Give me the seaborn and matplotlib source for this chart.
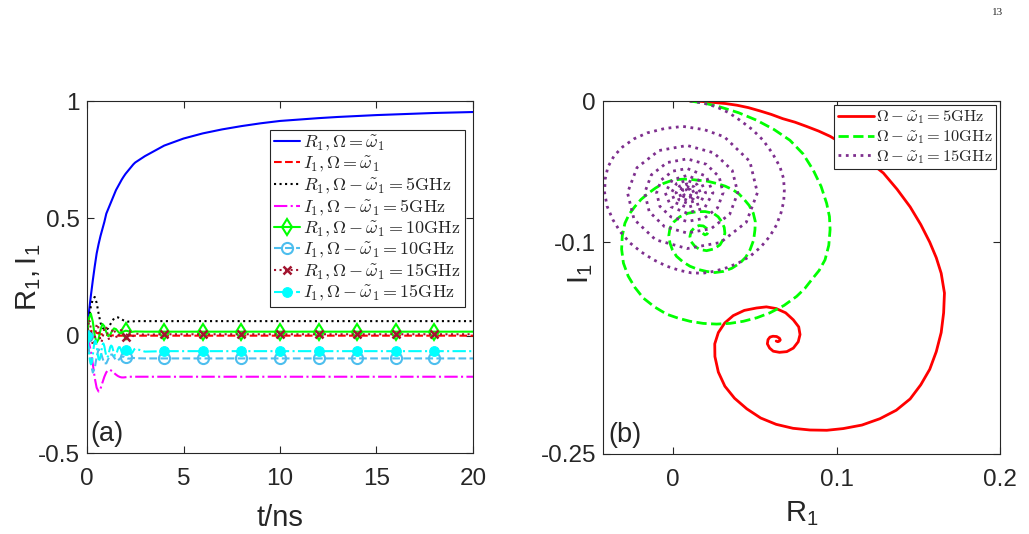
import matplotlib
matplotlib.use("Agg")
import matplotlib.pyplot as plt
import seaborn as sns

# ---------------- panel (a): R1 / I1 against time ----------------
t_a = [0, 0.1, 0.2, 0.3, 0.4, 0.5, 0.6, 0.7, 0.8, 0.9, 1.0, 1.1, 1.2, 1.3,
       1.4, 1.5, 1.6, 1.7, 1.8, 1.9, 2.0, 2.1, 2.2, 2.3, 2.4, 2.5,
       3, 4, 5, 6, 7, 8, 9, 10, 11, 12, 13, 14, 15, 16, 17, 18, 19, 20]

r1_res = [0, 0.10, 0.17, 0.235, 0.295, 0.35, 0.39, 0.425, 0.455, 0.485, 0.52,
          0.54, 0.56, 0.58, 0.60, 0.62, 0.635, 0.65, 0.665, 0.678, 0.69, 0.70,
          0.71, 0.72, 0.73, 0.738,
          0.765, 0.81, 0.84, 0.862, 0.879, 0.893, 0.905, 0.915, 0.921, 0.927,
          0.932, 0.936, 0.94, 0.943, 0.946, 0.949, 0.951, 0.953]
i1_res = [0, 0.012, 0.02, 0.02, 0.016, 0.012, 0.009, 0.007, 0.005, 0.004, 0.003,
          0.002, 0.002, 0.001, 0.001, 0.001, 0, 0, 0, 0, 0, 0, 0, 0, 0, 0,
          0, 0, 0, 0, 0, 0, 0, 0, 0, 0, 0, 0, 0, 0, 0, 0, 0, 0]
r1_5 = [0, 0.07, 0.125, 0.155, 0.165, 0.14, 0.095, 0.055, 0.035, 0.025, 0.024,
        0.032, 0.047, 0.062, 0.073, 0.078, 0.078, 0.074, 0.069, 0.065, 0.062,
        0.06, 0.06, 0.06, 0.061, 0.062,
        0.062, 0.062, 0.062, 0.062, 0.062, 0.062, 0.062, 0.062, 0.062, 0.062,
        0.062, 0.062, 0.062, 0.062, 0.062, 0.062, 0.062, 0.062]
i1_5 = [0, -0.03, -0.065, -0.12, -0.18, -0.222, -0.238, -0.226, -0.2, -0.175,
        -0.156, -0.147, -0.146, -0.151, -0.159, -0.166, -0.172, -0.176, -0.178,
        -0.178, -0.177, -0.176, -0.175, -0.175, -0.175, -0.175,
        -0.175, -0.175, -0.175, -0.175, -0.175, -0.175, -0.175, -0.175, -0.175,
        -0.175, -0.175, -0.175, -0.175, -0.175, -0.175, -0.175, -0.175, -0.175]
r1_10 = [0, 0.075, 0.094, 0.06, 0.0, -0.03, -0.015, 0.025, 0.05, 0.04, 0.015,
         -0.002, 0.004, 0.02, 0.031, 0.028, 0.018, 0.01, 0.012, 0.018, 0.021,
         0.02, 0.017, 0.016, 0.017, 0.018,
         0.017, 0.017, 0.017, 0.017, 0.017, 0.017, 0.017, 0.017, 0.017, 0.017,
         0.017, 0.017, 0.017, 0.017, 0.017, 0.017, 0.017, 0.017]
i1_10 = [0, -0.06, -0.12, -0.157, -0.14, -0.09, -0.058, -0.065, -0.095, -0.118,
         -0.118, -0.1, -0.082, -0.08, -0.092, -0.104, -0.106, -0.098, -0.09,
         -0.089, -0.093, -0.097, -0.098, -0.096, -0.095, -0.096,
         -0.097, -0.097, -0.097, -0.097, -0.097, -0.097, -0.097, -0.097, -0.097,
         -0.097, -0.097, -0.097, -0.097, -0.097, -0.097, -0.097, -0.097, -0.097]

# 15 GHz oscillates faster, so it is read on a finer time grid
t_b = [0, 0.05, 0.1, 0.15, 0.2, 0.25, 0.3, 0.35, 0.4, 0.45, 0.5, 0.55, 0.6,
       0.65, 0.7, 0.75, 0.8, 0.85, 0.9, 0.95, 1.0, 1.05, 1.1, 1.15, 1.2, 1.25,
       1.3, 1.35, 1.4, 1.45, 1.5, 1.55, 1.6, 1.65, 1.7, 1.75, 1.8, 1.85, 1.9,
       1.95, 2.0, 2.05, 2.1, 2.15, 2.2, 2.25, 2.3, 2.35, 2.4, 2.45, 2.5,
       3, 4, 5, 6, 7, 8, 9, 10, 11, 12, 13, 14, 15, 16, 17, 18, 19, 20]
r1_15 = [0, 0.045, 0.068, 0.058, 0.025, -0.015, -0.040, -0.038, -0.012, 0.022,
         0.047, 0.049, 0.030, 0.002, -0.022, -0.027, -0.014, 0.010, 0.032, 0.039,
         0.033, 0.014, -0.006, -0.018, -0.014, 0.002, 0.020, 0.029, 0.028, 0.015,
         0.001, -0.010, -0.010, 0.001, 0.015, 0.023, 0.023, 0.015, 0.004, -0.004,
         -0.005, 0.002, 0.012, 0.018, 0.0195, 0.015, 0.007, 0.000, -0.002, 0.002,
         0.009,
         0.004, 0.006, 0.006, 0.006, 0.006, 0.006, 0.006, 0.006, 0.006, 0.006,
         0.006, 0.006, 0.006, 0.006, 0.006, 0.006, 0.006, 0.006]
i1_15 = [0, -0.03, -0.07, -0.105, -0.121, -0.115, -0.085, -0.048, -0.022, -0.022,
         -0.045, -0.078, -0.100, -0.103, -0.088, -0.062, -0.039, -0.033, -0.045,
         -0.068, -0.087, -0.093, -0.086, -0.067, -0.049, -0.042, -0.046, -0.061,
         -0.077, -0.085, -0.083, -0.071, -0.057, -0.049, -0.049, -0.058, -0.070,
         -0.078, -0.079, -0.072, -0.062, -0.054, -0.052, -0.056, -0.065, -0.072,
         -0.075, -0.072, -0.065, -0.058, -0.055,
         -0.068, -0.066, -0.066, -0.066, -0.066, -0.066, -0.066, -0.066, -0.066,
         -0.066, -0.066, -0.066, -0.066, -0.066, -0.066, -0.066, -0.066, -0.066]

marker_t = [0, 2, 4, 6, 8, 10, 12, 14, 16, 18]

# ---------------- panel (b): trajectories in the R1-I1 plane ----------------
r_5ghz = [0.0102, 0.0175, 0.0245, 0.032, 0.039, 0.046, 0.053, 0.060, 0.067,
          0.0745, 0.0816, 0.089, 0.096, 0.104, 0.112, 0.1205, 0.1286, 0.137,
          0.145, 0.1515, 0.157, 0.161, 0.164, 0.166, 0.1655, 0.164, 0.161,
          0.157, 0.1515, 0.145, 0.1365, 0.1265, 0.1155, 0.104, 0.094, 0.0837,
          0.0733, 0.063, 0.0535, 0.045, 0.0375, 0.0316, 0.0276, 0.0255, 0.0254,
          0.0276, 0.0315, 0.0367, 0.0435, 0.051, 0.057, 0.063, 0.0688, 0.0735,
          0.0768, 0.0776, 0.0765, 0.0735, 0.0695, 0.065, 0.0612, 0.059, 0.0576,
          0.058, 0.0592, 0.061, 0.0633, 0.065, 0.0655, 0.065, 0.064, 0.063]
i_5ghz = [0.0, -0.0003, -0.001, -0.0018, -0.003, -0.0047, -0.007, -0.0095,
          -0.0125, -0.015, -0.018, -0.0213, -0.025, -0.0305, -0.037, -0.0435,
          -0.051, -0.0625, -0.075, -0.0875, -0.1, -0.111, -0.122, -0.136,
          -0.150, -0.164, -0.1775, -0.19, -0.201, -0.211, -0.219, -0.225,
          -0.2295, -0.232, -0.2332, -0.233, -0.2318, -0.229, -0.2245, -0.218,
          -0.2105, -0.202, -0.192, -0.181, -0.172, -0.164, -0.1572, -0.152,
          -0.1483, -0.1466, -0.1458, -0.147, -0.150, -0.155, -0.160, -0.1654,
          -0.1705, -0.175, -0.1775, -0.178, -0.1772, -0.175, -0.172, -0.169,
          -0.1672, -0.1666, -0.1668, -0.168, -0.1692, -0.170, -0.1705, -0.170]

r_10ghz = [0.0102, 0.0194, 0.0286, 0.040, 0.051, 0.0617, 0.0714, 0.0795, 0.0857,
           0.0905, 0.0939, 0.0956, 0.096, 0.0952, 0.0929, 0.0893, 0.0847, 0.0805,
           0.0755, 0.0678, 0.0592, 0.0512, 0.0429, 0.0347, 0.0265, 0.0183,
           0.0102, 0.003, -0.004, -0.0115, -0.0184, -0.0235, -0.0276, -0.0305,
           -0.0316, -0.0312, -0.0296, -0.027, -0.0235, -0.0197, -0.0153, -0.0108,
           -0.006, -0.001, 0.004, 0.009, 0.0143, 0.0205, 0.0265, 0.0318, 0.0367,
           0.0402, 0.0429, 0.0465, 0.049, 0.0502, 0.05, 0.0492, 0.047, 0.0443,
           0.0408, 0.0358, 0.0306, 0.0255, 0.0204, 0.0152, 0.0102, 0.0058, 0.002,
           -0.0005, -0.002, -0.0027, -0.002, 0.0005, 0.004, 0.009, 0.0143,
           0.0195, 0.0245, 0.0275, 0.0296, 0.0312, 0.0316, 0.0306, 0.0286, 0.0248,
           0.0204, 0.0163, 0.0133, 0.011, 0.0102, 0.011, 0.0133, 0.0158, 0.0184,
           0.0205, 0.0214, 0.0207, 0.0194, 0.018]
i_10ghz = [0.0, -0.0016, -0.0042, -0.0083, -0.0136, -0.0202, -0.0278, -0.0375,
           -0.049, -0.0605, -0.0725, -0.0818, -0.091, -0.1022, -0.1125, -0.120,
           -0.1266, -0.1328, -0.1384, -0.1448, -0.150, -0.1535, -0.156, -0.1575,
           -0.158, -0.1575, -0.156, -0.1538, -0.151, -0.1458, -0.1395, -0.132,
           -0.124, -0.1148, -0.105, -0.0955, -0.0866, -0.0802, -0.0748, -0.0697,
           -0.0654, -0.0616, -0.0584, -0.0563, -0.0555, -0.0553, -0.056, -0.0567,
           -0.0584, -0.0603, -0.063, -0.0658, -0.069, -0.074, -0.0795, -0.0853,
           -0.0913, -0.0985, -0.1054, -0.1107, -0.1148, -0.1185, -0.1207, -0.1215,
           -0.1207, -0.1193, -0.117, -0.1138, -0.110, -0.1055, -0.1007, -0.0952,
           -0.090, -0.0855, -0.082, -0.0795, -0.0784, -0.0783, -0.0795, -0.082,
           -0.0854, -0.0895, -0.0936, -0.098, -0.1019, -0.1048, -0.106, -0.1052,
           -0.103, -0.0997, -0.096, -0.0922, -0.0894, -0.0882, -0.0885, -0.0903,
           -0.0925, -0.0942, -0.0948, -0.0936]

r_15ghz = [0.0102, 0.0185, 0.0265, 0.034, 0.0408, 0.0485, 0.055, 0.0607, 0.0653,
           0.0675, 0.068, 0.0676, 0.066, 0.0632, 0.059, 0.0535, 0.047, 0.0402,
           0.033, 0.0255, 0.018, 0.011, 0.004, -0.004, -0.012, -0.0195, -0.0265,
           -0.0325, -0.037, -0.0405, -0.042, -0.0417, -0.040, -0.0362, -0.031,
           -0.024, -0.016, -0.005, 0.006, 0.019,
           0.0313, 0.0469, 0.0515, 0.0447, 0.0289, 0.0085, -0.0108, -0.024,
           -0.028, -0.0222, -0.0088, 0.0085,
           0.0248, 0.0361, 0.0395, 0.0346, 0.0232, 0.0085, -0.0053, -0.0147,
           -0.0175, -0.0134, -0.0038, 0.0085,
           0.0202, 0.0281, 0.0305, 0.0271, 0.0189, 0.0085, -0.0014, -0.0082,
           -0.0102, -0.0073, -0.0004, 0.0085,
           0.0202, 0.0243, 0.0192, 0.0085, -0.0014, -0.0049, -0.0006, 0.0085,
           0.0168, 0.0198, 0.0162, 0.0085, 0.0014, -0.0011, 0.002, 0.0085,
           0.0145, 0.0166, 0.0140, 0.0085, 0.0035, 0.0017, 0.0038, 0.0085,
           0.0127, 0.0143, 0.0125, 0.0085, 0.0049, 0.0036, 0.0052, 0.0085,
           0.0114, 0.0126, 0.0113, 0.0085, 0.006, 0.005, 0.0062, 0.0085,
           0.0106, 0.0115, 0.0105, 0.0085, 0.0067, 0.006, 0.0068, 0.0085,
           0.0085]
i_15ghz = [0.0, -0.0015, -0.0042, -0.0083, -0.0136, -0.0203, -0.0278, -0.037,
           -0.0466, -0.0548, -0.063, -0.0712, -0.079, -0.0878, -0.096, -0.1035,
           -0.110, -0.1145, -0.118, -0.1205, -0.122, -0.1217, -0.120, -0.117,
           -0.1125, -0.107, -0.1005, -0.0925, -0.084, -0.0745, -0.065, -0.0555,
           -0.0467, -0.0388, -0.0325, -0.0268, -0.0226, -0.0194, -0.018, -0.0203,
           -0.0254, -0.0428, -0.065, -0.0859, -0.1002, -0.1045, -0.0983, -0.0838,
           -0.065, -0.0472, -0.0351, -0.0315,
           -0.0367, -0.0491, -0.065, -0.0801, -0.0904, -0.0935, -0.089, -0.0784,
           -0.065, -0.0523, -0.0436, -0.041,
           -0.0448, -0.0537, -0.065, -0.0757, -0.0831, -0.0853, -0.0821, -0.0746,
           -0.065, -0.0559, -0.0497, -0.0478,
           -0.0533, -0.065, -0.0757, -0.0795, -0.0749, -0.065, -0.0559, -0.0527,
           -0.0567, -0.065, -0.0727, -0.0754, -0.0721, -0.065, -0.0585, -0.0562,
           -0.059, -0.065, -0.0705, -0.0724, -0.070, -0.065, -0.0603, -0.0587,
           -0.0608, -0.065, -0.069, -0.0703, -0.0686, -0.065, -0.0617, -0.0605,
           -0.0621, -0.065, -0.0677, -0.0688, -0.0675, -0.065, -0.0627, -0.0618,
           -0.0629, -0.065, -0.0669, -0.0677, -0.0668, -0.065, -0.0633, -0.0627,
           -0.065]

# ---------------- style ----------------
sns.set_style("ticks")
plt.rcParams["font.family"] = ["Liberation Sans", "DejaVu Sans"]
plt.rcParams["mathtext.fontset"] = "cm"
plt.rcParams.update({
    "xtick.direction": "in", "ytick.direction": "in",
    "xtick.top": True, "ytick.right": True,
    "xtick.major.size": 5, "ytick.major.size": 5,
    "xtick.major.width": 0.8, "ytick.major.width": 0.8,
    "xtick.color": "#262626", "ytick.color": "#262626",
    "axes.edgecolor": "#262626", "axes.linewidth": 0.8,
})

TICK_FS = 17.5
LABEL_FS = 21

fig = plt.figure(figsize=(10.29, 5.34), dpi=100)
ax1 = fig.add_axes([87 / 1029, 1 - 453 / 534, 386 / 1029, 352 / 534])
ax2 = fig.add_axes([603 / 1029, 1 - 454 / 534, 397 / 1029, 353 / 534])

idx_a = [i for i, v in enumerate(t_a) if round(v, 3) in marker_t]
idx_b = [i for i, v in enumerate(t_b) if round(v, 3) in marker_t]

lw = 1.5
sns.lineplot(x=t_a, y=r1_res, ax=ax1, color="#0000FF", lw=lw, estimator=None,
             legend=False, label=r"$R_1, \Omega = \tilde{\omega}_1$")
sns.lineplot(x=t_a, y=i1_res, ax=ax1, color="#FF0000", lw=lw, linestyle="--",
             estimator=None, legend=False,
             label=r"$I_1, \Omega = \tilde{\omega}_1$")
sns.lineplot(x=t_a, y=r1_5, ax=ax1, color="black", lw=lw, linestyle=":",
             estimator=None, legend=False,
             label=r"$R_1, \Omega - \tilde{\omega}_1 = 5\mathrm{GHz}$")
sns.lineplot(x=t_a, y=i1_5, ax=ax1, color="#FF00FF", lw=lw, linestyle="-.",
             estimator=None, legend=False,
             label=r"$I_1, \Omega - \tilde{\omega}_1 = 5\mathrm{GHz}$")
sns.lineplot(x=t_a, y=r1_10, ax=ax1, color="#00FF00", lw=lw, marker="d",
             markersize=8.5, markerfacecolor="none", markeredgecolor="#00FF00",
             markeredgewidth=1.5, markevery=idx_a, estimator=None, legend=False,
             label=r"$R_1, \Omega - \tilde{\omega}_1 = 10\mathrm{GHz}$")
sns.lineplot(x=t_a, y=i1_10, ax=ax1, color="#4DBEEE", lw=lw, linestyle="--",
             marker="o", markersize=8, markerfacecolor="none",
             markeredgecolor="#4DBEEE", markeredgewidth=1.5, markevery=idx_a,
             estimator=None, legend=False,
             label=r"$I_1, \Omega - \tilde{\omega}_1 = 10\mathrm{GHz}$")
sns.lineplot(x=t_b, y=r1_15, ax=ax1, color="#A2142F", lw=lw, linestyle=":",
             marker="x", markersize=6, markeredgecolor="#A2142F",
             markeredgewidth=1.8, markevery=idx_b, estimator=None, legend=False,
             label=r"$R_1, \Omega - \tilde{\omega}_1 = 15\mathrm{GHz}$")
sns.lineplot(x=t_b, y=i1_15, ax=ax1, color="#00FFFF", lw=lw, linestyle="-.",
             marker="o", markersize=7, markerfacecolor="#00FFFF",
             markeredgecolor="#00FFFF", markevery=idx_b, estimator=None,
             legend=False,
             label=r"$I_1, \Omega - \tilde{\omega}_1 = 15\mathrm{GHz}$")

ax1.set_xlim(0, 20)
ax1.set_ylim(-0.5, 1)
ax1.set_xticks([0, 5, 10, 15, 20])
ax1.set_yticks([-0.5, 0, 0.5, 1])
ax1.set_yticklabels(["-0.5", "0", "0.5", "1"])
ax1.tick_params(axis="both", labelsize=TICK_FS)
ax1.tick_params(axis="x", pad=11)
ax1.tick_params(axis="y", pad=5)
ax1.set_xlabel("t/ns", fontsize=LABEL_FS, labelpad=10)
ax1.set_ylabel(r"$\mathregular{R_1, I_1}$", fontsize=LABEL_FS)
ax1.yaxis.set_label_coords(-0.115, 0.5)
ax1.text(0.008, 0.018, "(a)", transform=ax1.transAxes, fontsize=19.5,
         ha="left", va="bottom")
leg1 = ax1.legend(loc="upper right", bbox_to_anchor=(0.979, 0.918),
                  borderaxespad=0, fontsize=13, frameon=True, fancybox=False,
                  framealpha=1, edgecolor="#262626", handlelength=1.4,
                  handletextpad=0.2, labelspacing=0.1, borderpad=0.22)
leg1.get_frame().set_linewidth(0.8)

lw2 = 2.0
sns.lineplot(x=r_5ghz, y=i_5ghz, ax=ax2, color="#FF0000", lw=lw2, sort=False,
             estimator=None, legend=False,
             label=r"$\Omega - \tilde{\omega}_1 = 5\mathrm{GHz}$")
sns.lineplot(x=r_10ghz, y=i_10ghz, ax=ax2, color="#00FF00", lw=lw2,
             linestyle="--", sort=False, estimator=None, legend=False,
             label=r"$\Omega - \tilde{\omega}_1 = 10\mathrm{GHz}$")
sns.lineplot(x=r_15ghz, y=i_15ghz, ax=ax2, color="#7E2F8E", lw=lw2,
             linestyle=":", sort=False, estimator=None, legend=False,
             label=r"$\Omega - \tilde{\omega}_1 = 15\mathrm{GHz}$")

ax2.set_xlim(-0.043, 0.2)
ax2.set_ylim(-0.25, 0)
ax2.set_xticks([0, 0.1, 0.2])
ax2.set_xticklabels(["0", "0.1", "0.2"])
ax2.set_yticks([-0.25, -0.1, 0])
ax2.set_yticklabels(["-0.25", "-0.1", "0"])
ax2.tick_params(axis="both", labelsize=TICK_FS)
ax2.tick_params(axis="x", pad=11)
ax2.tick_params(axis="y", pad=5)
ax2.set_xlabel(r"$\mathregular{R_1}$", fontsize=LABEL_FS, labelpad=6)
ax2.set_ylabel(r"$\mathregular{I_1}$", fontsize=LABEL_FS)
ax2.yaxis.set_label_coords(-0.02, 0.51)
ax2.text(0.013, 0.018, "(b)", transform=ax2.transAxes, fontsize=19.5,
         ha="left", va="bottom")
leg2 = ax2.legend(loc="upper right", bbox_to_anchor=(0.99, 0.988),
                  borderaxespad=0, fontsize=11.8, frameon=True, fancybox=False,
                  framealpha=1, edgecolor="#262626", handlelength=2.2,
                  handletextpad=0.15, labelspacing=0.12, borderpad=0.2)
leg2.get_frame().set_linewidth(0.8)

fig.text(0.969, 0.976, "13", family=["Liberation Serif", "DejaVu Serif"],
         fontsize=8, ha="center", va="center")

fig.savefig("out.png", dpi=100)
